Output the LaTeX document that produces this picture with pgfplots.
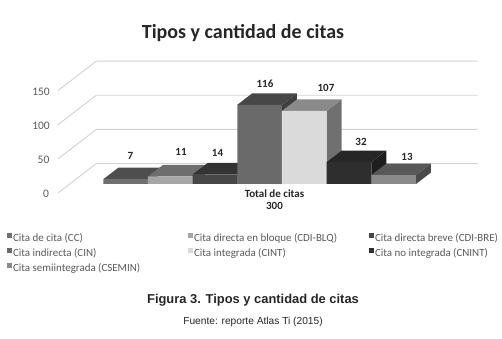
\documentclass[border=0pt]{standalone}
\usepackage{pgfplots}
\pgfplotsset{compat=1.18}
\usepackage{fontspec}
\setmainfont{Carlito}
\newfontfamily\arial{Liberation Sans}
\definecolor{gridc}{HTML}{D2D2D2}
\definecolor{tickc}{HTML}{595959}
\definecolor{labc}{HTML}{262626}
\definecolor{c70}{HTML}{707070}\definecolor{c4e}{HTML}{4E4E4E}\definecolor{c55}{HTML}{555555}
\definecolor{ca6}{HTML}{A6A6A6}\definecolor{c6e}{HTML}{6E6E6E}
\definecolor{c47}{HTML}{474747}\definecolor{c33}{HTML}{333333}\definecolor{c2e}{HTML}{2E2E2E}
\definecolor{c6a}{HTML}{6A6A6A}\definecolor{c3f}{HTML}{3F3F3F}
\definecolor{cda}{HTML}{DADADA}\definecolor{c8a}{HTML}{8A8A8A}
\definecolor{c26}{HTML}{262626}\definecolor{c1e}{HTML}{1E1E1E}
\definecolor{c58}{HTML}{585858}\definecolor{c4a}{HTML}{4A4A4A}
% i, i+1, value, front, top, side, legend text
\newcommand{\cuboid}[7]{%
  \addplot3[forget plot,draw=none,fill=#6] coordinates {(#2,0,0)(#2,1,0)(#2,1,#3)(#2,0,#3)(#2,0,0)};
  \addplot3[forget plot,draw=none,fill=#5] coordinates {(#1,0,#3)(#2,0,#3)(#2,1,#3)(#1,1,#3)(#1,0,#3)};
  \addplot3[draw=none,fill=#4] coordinates {(#1,0,0)(#2,0,0)(#2,0,#3)(#1,0,#3)(#1,0,0)};
  \addlegendentry{\makebox[174.5pt][l]{#7}}
}
\newcommand{\gridl}[1]{%
  \addplot3[forget plot,gridc,line width=0.9pt] coordinates {(-0.752,-0.78,#1)(-0.752,1.78,#1)(7.78,1.78,#1)};
}
\newcommand{\txt}[3]{\node[inner sep=0pt,align=center] at (#1,{339-#2}) {#3};}
\newcommand{\tk}[1]{\fontsize{11.5}{13}\selectfont\color{tickc}#1}
\newcommand{\lb}[1]{\fontsize{11}{13}\selectfont\bfseries\color{labc}#1}
\begin{document}
\begin{tikzpicture}[x=1pt,y=1pt]
\useasboundingbox (0,0) rectangle (502,339);
\begin{axis}[
  at={(103.3pt,155pt)},anchor=origin,
  x={(44.67pt,0pt)},y={(15pt,11.5pt)},z={(0pt,0.683pt)},
  xmin=-0.752,xmax=7.78,ymin=-0.78,ymax=1.78,zmin=0,zmax=150,
  axis lines=none,clip=false,no marks,
  legend columns=3,
  legend image code/.code={\fill[#1] (0pt,0pt) rectangle (5pt,5pt);},
  legend style={draw=none,fill=none,at={(0,0)},anchor=north west,xshift=-51.5pt,yshift=-40.5pt,
    inner sep=0pt,outer sep=0pt,font=\fontsize{10.95}{12}\selectfont\color{tickc},
    row sep=5pt,nodes={inner sep=0pt,outer sep=0pt},
    /tikz/every odd column/.append style={column sep=1.5pt}},
]
\gridl{0}\gridl{50}\gridl{100}\gridl{150}
\cuboid{0}{1}{7}{c70}{c4e}{c55}{Cita de cita (CC)}
\cuboid{1}{2}{11}{ca6}{c6e}{c55}{Cita directa en bloque (CDI-BLQ)}
\cuboid{2}{3}{14}{c47}{c33}{c2e}{Cita directa breve (CDI-BRE)}
\cuboid{3}{4}{116}{c6a}{c47}{c3f}{Cita indirecta (CIN)}
\cuboid{4}{5}{107}{cda}{c8a}{c70}{Cita integrada (CINT)}
\cuboid{5}{6}{32}{c2e}{c26}{c1e}{Cita no integrada (CNINT)}
\cuboid{6}{7}{13}{c8a}{c58}{c4a}{Cita semiintegrada (CSEMIN)}
\end{axis}
\txt{243}{33}{\fontsize{20}{22}\selectfont\bfseries\color{labc}Tipos y cantidad de citas}
\txt{41}{91.5}{\tk{150}}
\txt{41}{125.5}{\tk{100}}
\txt{43.5}{159.5}{\tk{50}}
\txt{46}{193.5}{\tk{0}}
\txt{130.5}{156}{\lb{7}}
\txt{181}{151.5}{\lb{11}}
\txt{217.5}{152.5}{\lb{14}}
\txt{265}{83.5}{\lb{116}}
\txt{326}{88}{\lb{107}}
\txt{361}{141.5}{\lb{32}}
\txt{407}{157}{\lb{13}}
\txt{274.5}{194}{\lb{Total de citas}}
\txt{274.5}{206}{\lb{300}}
\txt{253}{300.5}{\arial\fontsize{12.9}{16}\selectfont\bfseries\color{labc}Figura 3. Tipos y cantidad de citas}
\txt{253}{321.5}{\arial\fontsize{10.2}{12}\selectfont\color{labc}Fuente: reporte Atlas Ti (2015)}
\end{tikzpicture}
\end{document}
